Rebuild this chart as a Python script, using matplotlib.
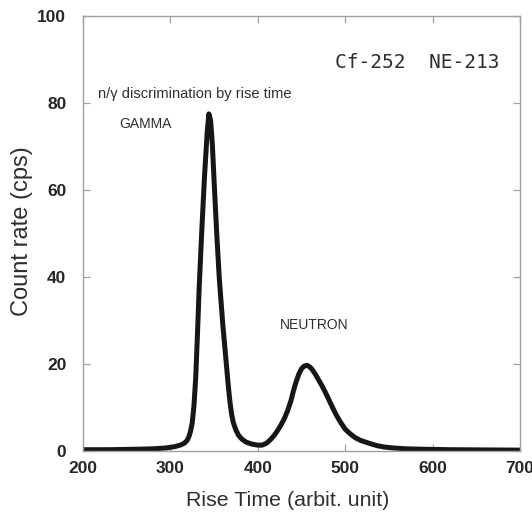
import matplotlib
matplotlib.use("Agg")
import matplotlib.pyplot as plt

rise_time = [200, 230, 260, 280, 295, 305, 312, 316, 319, 321, 323, 325, 327, 329, 331, 333, 336,
             339, 342, 344, 346, 348, 350, 353, 356, 360, 364, 366, 368, 370, 372, 375, 378, 382,
             387, 393, 400, 405, 410, 414, 418, 422, 426, 430, 434, 438, 441, 444, 447, 450, 453,
             456, 459, 462, 466, 470, 474, 478, 482, 486, 490, 495, 500, 506, 512, 518, 524, 530,
             537, 545, 555, 570, 590, 620, 660, 700]
count_rate = [0.3, 0.3, 0.4, 0.5, 0.7, 1.0, 1.4, 1.8, 2.4, 3.2, 4.5, 6.5, 10.5, 17, 27, 38, 51,
              63, 73, 77.5, 76, 70.5, 62, 50, 39.5, 29, 20, 15.5, 11.5, 8.5, 6.5, 4.8, 3.6, 2.7,
              2.0, 1.6, 1.35, 1.35, 1.8, 2.5, 3.4, 4.5, 5.8, 7.3, 9.2, 11.6, 14, 16, 17.7, 18.9, 19.5,
              19.7, 19.4, 18.8, 17.6, 16.2, 14.8, 13.2, 11.5, 9.8, 8.2, 6.5, 5, 3.9, 3.0, 2.4, 2, 1.6,
              1.2, 0.9, 0.7, 0.5, 0.4, 0.3, 0.25, 0.2]

x_ticks = [200, 300, 400, 500, 600, 700]
y_ticks = [0, 20, 40, 60, 80, 100]

TXT = "#2e2e2e"
SANS = ['Liberation Sans', 'DejaVu Sans']
plt.rcParams['font.family'] = SANS

fig = plt.figure(figsize=(5.32, 5.16), dpi=100)
ax = fig.add_axes([83 / 532, 1 - 451 / 516, 437 / 532, 435 / 516])
ax.plot(rise_time, count_rate, color="#161616", lw=3.6, solid_joinstyle="round",
        solid_capstyle="butt")
ax.set_xlim(200, 700)
ax.set_ylim(0, 100)
ax.set_xticks(x_ticks)
ax.set_yticks(y_ticks)
for s in ax.spines.values():
    s.set_color("#a0a0a0")
    s.set_linewidth(1.0)
ax.tick_params(direction="in", length=5, width=0.9, color="#a0a0a0",
               top=True, right=True, labelsize=12.5, labelcolor="#262626")
ax.tick_params(axis="x", pad=7)
ax.tick_params(axis="y", pad=12)
for lab in ax.get_xticklabels() + ax.get_yticklabels():
    lab.set_fontweight("bold")

ax.set_xlabel("Rise Time (arbit. unit)", fontsize=15.4, color=TXT)
ax.xaxis.set_label_coords(0.468, (451 - 501) / 435)
ax.xaxis.label.set_va("center")
ax.set_ylabel("Count rate (cps)", fontsize=17, color=TXT)
ax.yaxis.set_label_coords((22 - 83) / 437, 0.505)
ax.yaxis.label.set_va("center")

ax.text(0.954, 0.894, "Cf-252  NE-213", transform=ax.transAxes, ha="right", va="center",
        fontsize=14, color=TXT, family=['DejaVu Sans Mono'])
ax.text(0.034, 0.821, "n/γ discrimination by rise time", transform=ax.transAxes,
        ha="left", va="center", fontsize=10.5, color=TXT)
ax.text(0.082, 0.752, "GAMMA", transform=ax.transAxes, ha="left", va="center",
        fontsize=10, color=TXT)
ax.text(0.451, 0.29, "NEUTRON", transform=ax.transAxes, ha="left", va="center",
        fontsize=10, color=TXT)

fig.savefig("out.png", dpi=100)
